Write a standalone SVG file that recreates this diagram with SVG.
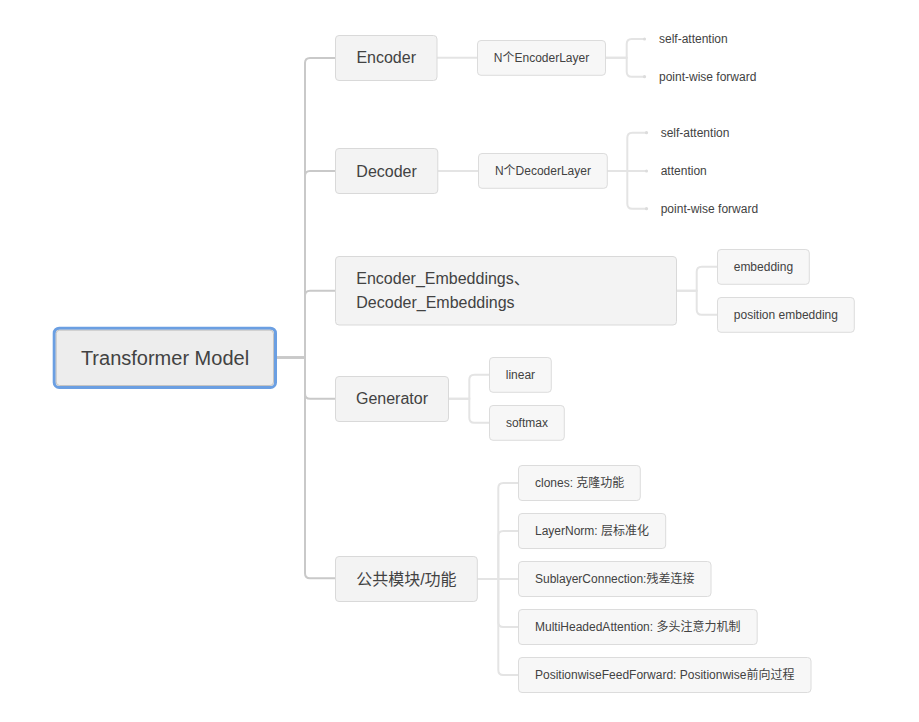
<svg xmlns="http://www.w3.org/2000/svg" width="919" height="722" viewBox="0 0 919 722">
<style>
text{font-family:"Liberation Sans",Arial,"Noto Sans CJK SC",sans-serif;fill:#424242}
.t20{font-size:20px;text-anchor:middle}
.t16{font-size:16px;text-anchor:middle}
.t16l{font-size:16px}
.t12{font-size:12px;text-anchor:middle}
.t12l{font-size:12px}
.b1{fill:#f3f3f3;stroke:#d9d9d9;stroke-width:1}
.b2{fill:#f7f7f7;stroke:#dcdcdc;stroke-width:1}
.c1{fill:none;stroke:#c9c9c9;stroke-width:2}
.c2{fill:none;stroke:#e4e4e4;stroke-width:2}
.dot{fill:#dcdcdc}
</style>
<rect width="919" height="722" fill="#ffffff"/>
<g id="connectors">
<path class="c1" d="M277,357.5 H305 V63 Q305,58 310,58 H335"/>
<path class="c1" d="M277,357.5 H305 V176 Q305,171 310,171 H335"/>
<path class="c1" d="M277,357.5 H305 V295.7 Q305,290.7 310,290.7 H335"/>
<path class="c1" d="M277,357.5 H305 V393.7 Q305,398.7 310,398.7 H335"/>
<path class="c1" d="M277,357.5 H305 V573.3 Q305,578.3 310,578.3 H335"/>
<path class="c2" d="M437,57.8 H477"/>
<path class="c2" d="M606,57.8 H626.7 V44 Q626.7,39 631.7,39 H644"/>
<path class="c2" d="M606,57.8 H626.7 V71.7 Q626.7,76.7 631.7,76.7 H644"/>
<circle class="dot" cx="644.5" cy="39" r="1.6"/>
<circle class="dot" cx="644.5" cy="76.7" r="1.6"/>
<path class="c2" d="M438,171 H478"/>
<path class="c2" d="M607.3,171 H627.3 V137.7 Q627.3,132.7 632.3,132.7 H646"/>
<path class="c2" d="M607.3,171 H646"/>
<path class="c2" d="M607.3,171 H627.3 V203.7 Q627.3,208.7 632.3,208.7 H646"/>
<circle class="dot" cx="646.5" cy="132.7" r="1.6"/>
<circle class="dot" cx="646.5" cy="171" r="1.6"/>
<circle class="dot" cx="646.5" cy="208.7" r="1.6"/>
<path class="c2" d="M677,290.7 H696.7 V271.8 Q696.7,266.8 701.7,266.8 H717"/>
<path class="c2" d="M677,290.7 H696.7 V309.8 Q696.7,314.8 701.7,314.8 H717"/>
<path class="c2" d="M449,398.7 H469.3 V379.8 Q469.3,374.8 474.3,374.8 H489"/>
<path class="c2" d="M449,398.7 H469.3 V417.8 Q469.3,422.8 474.3,422.8 H489"/>
<path class="c2" d="M477.5,579 H498.3 V488 Q498.3,483 503.3,483 H518"/>
<path class="c2" d="M477.5,579 H498.3 V536 Q498.3,531 503.3,531 H518"/>
<path class="c2" d="M477.5,579 H518"/>
<path class="c2" d="M477.5,579 H498.3 V622 Q498.3,627 503.3,627 H518"/>
<path class="c2" d="M477.5,579 H498.3 V670 Q498.3,675 503.3,675 H518"/>
</g>
<g id="root">
<rect x="54.2" y="328.2" width="221.3" height="59.3" rx="5" fill="#ededed" stroke="#6b9fe2" stroke-width="3"/>
<rect x="56.2" y="330.2" width="217.3" height="55.3" rx="3.5" fill="none" stroke="#c4c4c4" stroke-width="1"/>
<text class="t20" x="165" y="364.5">Transformer Model</text>
</g>
<g id="encoder">
<rect class="b1" x="335.5" y="35.5" width="101.5" height="45" rx="3.5"/>
<text class="t16" x="386.2" y="63.3">Encoder</text>
</g>
<g id="decoder">
<rect class="b1" x="335.5" y="148.5" width="102.3" height="45" rx="3.5"/>
<text class="t16" x="386.6" y="176.5">Decoder</text>
</g>
<g id="embeddings">
<rect class="b1" x="335.5" y="256.5" width="341" height="68.5" rx="3.5"/>
<text class="t16l" x="356.3" y="284">Encoder_Embeddings、</text>
<text class="t16l" x="356.3" y="307.8">Decoder_Embeddings</text>
</g>
<g id="generator">
<rect class="b1" x="335.5" y="376.5" width="113" height="45" rx="3.5"/>
<text class="t16" x="392" y="404.2">Generator</text>
</g>
<g id="common">
<rect class="b1" x="335.5" y="556.5" width="141.8" height="45" rx="3.5"/>
<text class="t16" x="406.4" y="584.8">公共模块/功能</text>
</g>
<g id="encoderlayer">
<rect class="b2" x="477.5" y="40.5" width="128" height="34.8" rx="3.5"/>
<text class="t12" x="541.5" y="62.2">N个EncoderLayer</text>
</g>
<g id="enc-self-attention"><text class="t12l" x="659" y="43.3">self-attention</text></g>
<g id="enc-pointwise"><text class="t12l" x="659" y="81">point-wise forward</text></g>
<g id="decoderlayer">
<rect class="b2" x="478.5" y="153.5" width="128.8" height="34.8" rx="3.5"/>
<text class="t12" x="542.9" y="175.3">N个DecoderLayer</text>
</g>
<g id="dec-self-attention"><text class="t12l" x="660.7" y="137">self-attention</text></g>
<g id="dec-attention"><text class="t12l" x="660.7" y="175.3">attention</text></g>
<g id="dec-pointwise"><text class="t12l" x="660.7" y="213">point-wise forward</text></g>
<g id="embedding">
<rect class="b2" x="717.5" y="249.5" width="91.8" height="34.8" rx="3.5"/>
<text class="t12" x="763.4" y="271.1">embedding</text>
</g>
<g id="position-embedding">
<rect class="b2" x="717.5" y="297.5" width="136.8" height="34.8" rx="3.5"/>
<text class="t12" x="785.9" y="319.1">position embedding</text>
</g>
<g id="linear">
<rect class="b2" x="489.5" y="357.5" width="61.8" height="34.8" rx="3.5"/>
<text class="t12" x="520.4" y="379.1">linear</text>
</g>
<g id="softmax">
<rect class="b2" x="489.5" y="405.5" width="74.8" height="34.8" rx="3.5"/>
<text class="t12" x="526.9" y="427.1">softmax</text>
</g>
<g id="clones">
<rect class="b2" x="518.5" y="465.5" width="121.8" height="35" rx="3.5"/>
<text class="t12l" x="535" y="487.3">clones: 克隆功能</text>
</g>
<g id="layernorm">
<rect class="b2" x="518.5" y="513.5" width="147.2" height="35" rx="3.5"/>
<text class="t12l" x="535" y="535.3">LayerNorm: 层标准化</text>
</g>
<g id="sublayer">
<rect class="b2" x="518.5" y="561.5" width="192.5" height="35" rx="3.5"/>
<text class="t12l" x="535" y="583.3">SublayerConnection:残差连接</text>
</g>
<g id="multihead">
<rect class="b2" x="518.5" y="609.5" width="238.7" height="35" rx="3.5"/>
<text class="t12l" x="535" y="631.3">MultiHeadedAttention: 多头注意力机制</text>
</g>
<g id="positionwise">
<rect class="b2" x="518.5" y="657.5" width="292.5" height="35" rx="3.5"/>
<text class="t12l" x="535" y="679.3">PositionwiseFeedForward: Positionwise前向过程</text>
</g>
</svg>
